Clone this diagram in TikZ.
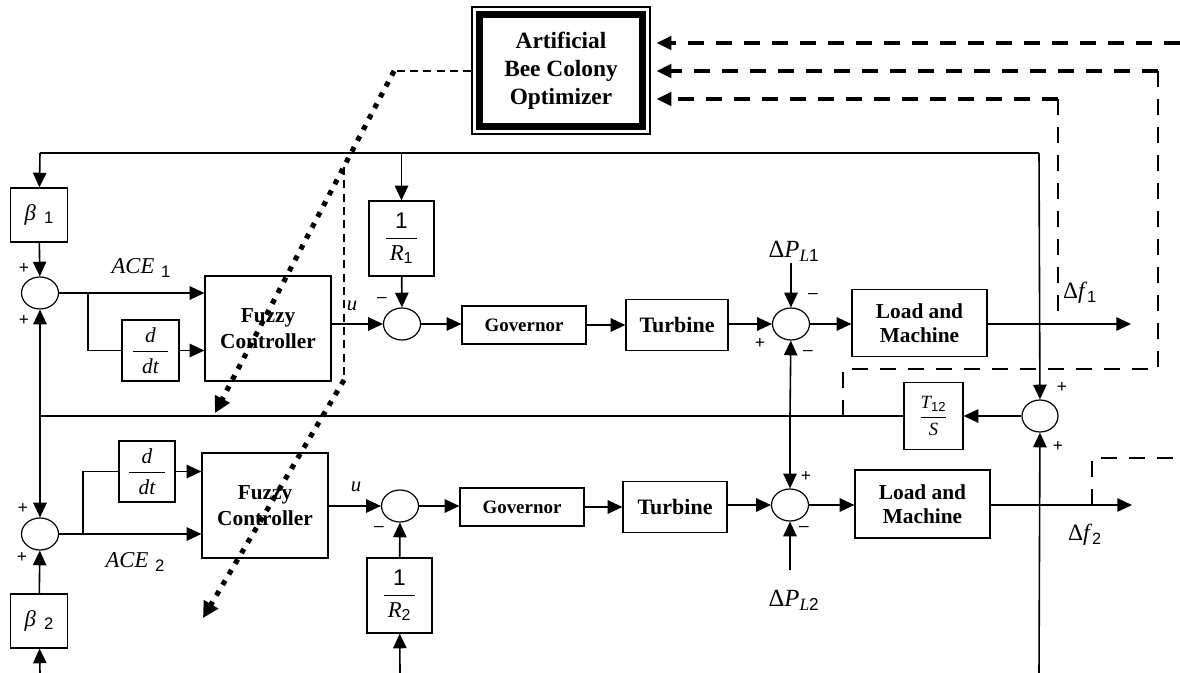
\documentclass[tikz,border=0pt]{standalone}
\usepackage{amsmath}
\usepackage{fontspec}
\setmainfont{Liberation Serif}
\setsansfont{Liberation Sans}
\usetikzlibrary{arrows.meta,shapes.geometric,calc}

\tikzset{
  block/.style={draw, line width=0.9pt, inner sep=0pt, align=center,
    font=\fontsize{16}{19}\selectfont\bfseries},
  gain/.style={block, font=\fontsize{16}{18}\selectfont},
  sum/.style={draw, ellipse, line width=0.9pt, inner sep=0pt,
    minimum width=27.75pt, minimum height=24pt},
  sig/.style={line width=1.2pt, ->},
  wire/.style={line width=1pt},
  sign/.style={font=\sffamily\fontsize{13}{13}\selectfont, inner sep=0pt},
  lab/.style={font=\fontsize{17}{19}\selectfont, inner sep=0pt},
  tune/.style={line width=3.8pt, dash pattern=on 3.8pt off 5.4pt,
    -{Triangle[length=12pt,width=12pt]}},
  meas/.style={line width=3.2pt, dash pattern=on 12pt off 9pt, shorten >=4.5pt,
    -{Triangle[length=11pt,width=10pt]}},
  thindash/.style={line width=0.8pt, dash pattern=on 12pt off 9pt},
  shortdash/.style={line width=0.8pt, dash pattern=on 6pt off 4pt}
}

\begin{document}
\begin{tikzpicture}[x=0.75pt, y=-0.75pt, >={Triangle[length=11pt,width=10pt]}]
\useasboundingbox (0,0) rectangle (1180,673);

% define the optimizer
  \node[block, minimum width=133.5pt, minimum height=95.25pt,
    font=\fontsize{17.5}{21}\selectfont\bfseries] (abc) at (561,70.5) {Artificial\\Bee Colony\\Optimizer};
  \draw[line width=5.25pt] ([shift={(8,8)}]abc.north west) rectangle ([shift={(-8,-8)}]abc.south east);

% define the blocks of area 1
  \node[gain, minimum width=42.75pt, minimum height=40.5pt, font=\fontsize{17}{18}\selectfont] (beta1) at (39,215)
    {\itshape β\hspace{6pt}\raisebox{-2pt}{\upshape\sffamily\fontsize{12.5}{12}\selectfont 1}};
  \node[sum] (sum1) at (40,293) {};
  \node[gain, minimum width=42.75pt, minimum height=45.75pt] (ddt1) at (150.5,350.5)
    {$\displaystyle\frac{\textit{d}}{\hspace{7pt}\textit{dt}\hspace{7pt}}$};
  \node[block, minimum width=94.5pt, minimum height=78.75pt] (fuz1) at (268,328.5) {Fuzzy\\Controller};
  \node[gain, minimum width=48.75pt, minimum height=56.25pt, font=\fontsize{17}{19}\selectfont] (rinv1) at (401.5,238.5)
    {$\displaystyle\frac{\textsf{1}}{\hspace{3pt}\textit{R}_{\textsf{1}}\hspace{3pt}}$};
  \node[sum] (sum2) at (402,324) {};
  \node[block, minimum width=93pt, minimum height=28.5pt, font=\fontsize{14.2}{16}\selectfont\bfseries] (gov1) at (524,325) {Governor};
  \node[block, minimum width=76.5pt, minimum height=38.25pt, font=\fontsize{16.5}{18}\selectfont\bfseries] (tur1) at (677,325) {Turbine};
  \node[sum] (sum3) at (791,324) {};
  \node[block, minimum width=101.25pt, minimum height=50.25pt, font=\fontsize{16}{18}\selectfont\bfseries] (lm1) at (919.5,323) {Load and\\Machine};

% define the tie line
  \node[gain, minimum width=44.25pt, minimum height=50.25pt, font=\fontsize{14}{16}\selectfont] (t12) at (933.5,416)
    {$\displaystyle\frac{\textit{T}_{\textsf{12}}}{\hspace{4pt}\textit{S}\hspace{4pt}}$};
  \node[sum, minimum width=27pt] (sum7) at (1040,416) {};

% define the blocks of area 2
  \node[sum] (sum6) at (40,534) {};
  \node[gain, minimum width=42.75pt, minimum height=40.5pt, font=\fontsize{17}{18}\selectfont] (beta2) at (39,621)
    {\itshape β\hspace{6pt}\raisebox{-2pt}{\upshape\sffamily\fontsize{12.5}{12}\selectfont 2}};
  \node[gain, minimum width=42pt, minimum height=45.75pt] (ddt2) at (147,471.5)
    {$\displaystyle\frac{\textit{d}}{\hspace{7pt}\textit{dt}\hspace{7pt}}$};
  \node[block, minimum width=94.5pt, minimum height=78.75pt] (fuz2) at (265,505.5) {Fuzzy\\Controller};
  \node[gain, minimum width=48.75pt, minimum height=56.25pt, font=\fontsize{17}{19}\selectfont] (rinv2) at (399.5,595.5)
    {$\displaystyle\frac{\textsf{1}}{\hspace{3pt}\textit{R}_{\textsf{2}}\hspace{3pt}}$};
  \node[sum] (sum5) at (400,506) {};
  \node[block, minimum width=93pt, minimum height=28.5pt, font=\fontsize{14.2}{16}\selectfont\bfseries] (gov2) at (522,507) {Governor};
  \node[block, minimum width=78pt, minimum height=38.25pt, font=\fontsize{16.5}{18}\selectfont\bfseries] (tur2) at (675,507) {Turbine};
  \node[sum] (sum4) at (790,505) {};
  \node[block, minimum width=101.25pt, minimum height=51pt, font=\fontsize{16}{18}\selectfont\bfseries] (lm2) at (922.5,504) {Load and\\Machine};

% free ends and corners
  \coordinate (tl) at (40,153);
  \coordinate (tr) at (1039,153);
  \coordinate (lj) at (40,416);
  \coordinate (mj) at (790,416);
  \coordinate (br1) at (88,293);
  \coordinate (br2) at (83,534);
  \coordinate (df1) at (1131,324);
  \coordinate (df2) at (1132,505);
  \coordinate (pl1) at (791,263);
  \coordinate (pl2) at (790,570);
  \coordinate (bb) at (40,673);
  \coordinate (rb) at (400,673);
  \coordinate (tb) at (1039,673);

% define the links
  \draw[wire] (tl) -- (tr);
  \draw[sig] (tl) -- (beta1);
  \draw[sig] (beta1) -- (sum1);
  \draw[sig] (sum1.east) -- (sum1.east -| fuz1.west);
  \draw[wire] (br1) |- (ddt1.west);
  \draw[sig] (ddt1.east) -- (ddt1.east -| fuz1.west);
  \draw[sig] (fuz1.east |- sum2) -- (sum2);
  \draw[sig] (rinv1 |- tl) -- (rinv1);
  \draw[sig] (rinv1) -- (sum2);
  \draw[sig] (sum2) -- (sum2 -| gov1.west);
  \draw[sig] (gov1) -- (tur1);
  \draw[sig] (tur1.east |- sum3) -- (sum3);
  \draw[sig] (pl1) -- (sum3);
  \draw[sig] (sum3) -- (sum3 -| lm1.west);
  \draw[sig] (lm1.east |- df1) -- (df1);
  \draw[sig] (tr) -- (sum7);
  \draw[sig] (tb) -- (sum7);
  \draw[sig] (sum7) -- (t12);
  \draw[wire] (t12) -- (lj);
  \draw[sig] (lj) -- (sum1);
  \draw[sig] (lj) -- (sum6);
  \draw[sig] (mj) -- (sum3);
  \draw[sig] (mj) -- (sum4);
  \draw[sig] (bb) -- (beta2);
  \draw[sig] (beta2) -- (sum6);
  \draw[sig] (sum6.east) -- (sum6.east -| fuz2.west);
  \draw[wire] (br2) |- (ddt2.west);
  \draw[sig] (ddt2.east) -- (ddt2.east -| fuz2.west);
  \draw[sig] (fuz2.east |- sum5) -- (sum5);
  \draw[sig] (rb) -- (rinv2);
  \draw[sig] (rinv2) -- (sum5);
  \draw[sig] (sum5) -- (sum5 -| gov2.west);
  \draw[sig] (gov2) -- (tur2);
  \draw[sig] (tur2.east |- sum4) -- (sum4);
  \draw[sig] (pl2) -- (sum4);
  \draw[sig] (sum4) -- (sum4 -| lm2.west);
  \draw[sig] (lm2.east |- df2) -- (df2);

% signs and labels
  \node[sign] (s1a) at (24,268) {+};
  \node[sign] (s1b) at (24,320) {+};
  \node[sign] (s2a) at (382,300) {–};
  \node[sign] (s3a) at (813,296) {–};
  \node[sign] (s3b) at (760,343) {+};
  \node[sign] (s3c) at (808,353) {–};
  \node[sign] (s7a) at (1062,387) {+};
  \node[sign] (s7b) at (1058,446) {+};
  \node[sign] (s4a) at (806,476) {+};
  \node[sign] (s4b) at (804,529) {–};
  \node[sign] (s5a) at (379,529) {–};
  \node[sign] (s6a) at (23,508) {+};
  \node[sign] (s6b) at (22,557) {+};
  \node[lab] (ace1) at (141,268) {\textit{ACE}\hspace{5pt}\raisebox{-3pt}{\sffamily\fontsize{12.5}{12}\selectfont 1}};
  \node[lab] (ace2) at (135,562) {\textit{ACE}\hspace{5pt}\raisebox{-3pt}{\sffamily\fontsize{12.5}{12}\selectfont 2}};
  \node[lab, font=\fontsize{15.5}{15}\selectfont] (u1) at (352,306) {\textit{u}};
  \node[lab, font=\fontsize{15.5}{15}\selectfont] (u2) at (356,487) {\textit{u}};
  \node[lab, font=\fontsize{18.5}{20}\selectfont] (dpl1) at (794,251) {Δ\textit{P}\textsubscript{\textit{L}\textsf{1}}};
  \node[lab, font=\fontsize{18.5}{20}\selectfont] (dpl2) at (794,600) {Δ\textit{P}\textsubscript{\textit{L}\textsf{2}}};
  \node[lab, font=\fontsize{17.5}{19}\selectfont] (df1t) at (1080,293) {Δ\textit{f}\textsubscript{\textsf{1}}};
  \node[lab, font=\fontsize{17.5}{19}\selectfont] (df2t) at (1085,535) {Δ\textit{f}\textsubscript{\textsf{2}}};

% measured signals to the optimizer
  \coordinate (m1) at (1180,43);
  \coordinate (m2) at (1158,71);
  \coordinate (m3) at (1058,99);
  \coordinate (k1) at (843,416);
  \coordinate (k2) at (1092,505);
  \draw[meas] (m1) -- (abc.east |- m1);
  \draw[meas] (m2) -- (abc.east |- m2);
  \draw[meas] (m3) -- (abc.east |- m3);
  \draw[thindash] (k1) -- (843,369) -| (m2);
  \draw[thindash] (m3) -- (m3 |- df1);
  \draw[thindash] (k2) |- (1180,458);

% tuning of the fuzzy controllers
  \coordinate (d1a) at (394,71);
  \coordinate (d1b) at (215,413);
  \coordinate (dv) at (344,167);
  \coordinate (d2a) at (344,380);
  \coordinate (d2b) at (203,618);
  \draw[shortdash] (abc.west |- d1a) -- (d1a);
  \draw[shortdash] (dv) -- (d2a);
  \draw[tune] (d1a) -- (d1b);
  \draw[tune] (d2a) -- (d2b);

\end{tikzpicture}
\end{document}
